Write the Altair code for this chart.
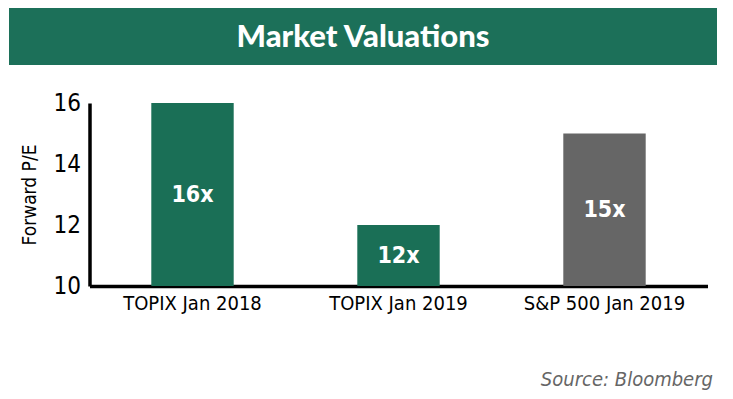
import altair as alt
import pandas as pd

categories = ["TOPIX Jan 2018", "TOPIX Jan 2019", "S&P 500 Jan 2019"]
values = [16, 12, 15]
bar_labels = ["16x", "12x", "15x"]
bar_colors = ["#1a6f56", "#1a6f56", "#666666"]

title_text = "Market Valuations"
y_title = "Forward P/E"
source_text = "Source: Bloomberg"
y_ticks = [10, 12, 14, 16]

df = pd.DataFrame({"cat": categories, "val": values, "lab": bar_labels, "col": bar_colors})

FONT = "'DejaVu Sans Condensed', 'Roboto Condensed', Roboto, sans-serif"
W, H = 618, 183
PL, PT = 81.5, 95

x_enc = alt.X("cat:N", sort=categories,
              scale=alt.Scale(paddingInner=0.6, paddingOuter=0.3),
              axis=alt.Axis(title=None, labelAngle=0, labelFont=FONT, labelFontSize=20,
                            labelColor="#000", labelPadding=7, ticks=False,
                            domainColor="#000", domainWidth=3.5))
y_scale = alt.Scale(domain=[10, 16], nice=False, zero=False)

bars = alt.Chart(df).mark_bar().encode(
    x=x_enc,
    y=alt.Y("val:Q", scale=y_scale,
            axis=alt.Axis(values=y_ticks, grid=False, ticks=False, title=y_title,
                          labelFont=FONT, labelFontSize=24, labelColor="#000", labelPadding=9,
                          titleFont=FONT, titleFontSize=19, titleFontWeight="normal",
                          titleColor="#000", titlePadding=14,
                          domainColor="#000", domainWidth=3.5)),
    y2=alt.datum(10),
    color=alt.Color("col:N", scale=None),
)

texts = alt.Chart(df).transform_calculate(mid="(datum.val + 10) / 2").mark_text(
    font=FONT, fontSize=23, fontWeight="bold", color="white", baseline="middle"
).encode(
    x=alt.X("cat:N", sort=categories),
    y=alt.Y("mid:Q", scale=y_scale),
    text="lab:N",
)

one = pd.DataFrame({"t": [title_text], "s": [source_text]})

banner = alt.Chart(one).mark_rect(color="#1c7059").encode(
    x=alt.value(9 - 89.5), x2=alt.value(717 - 89.5),
    y=alt.value(8 - 103), y2=alt.value(65 - 103),
)
title = alt.Chart(one).mark_text(
    font="Lato", fontSize=31, fontWeight=900, color="white", baseline="middle", align="center"
).encode(x=alt.value(363 - 89.5), y=alt.value(38 - 103), text="t:N")

source = alt.Chart(one).mark_text(
    font=FONT, fontSize=20, fontStyle="italic", color="#666666", baseline="alphabetic", align="right"
).encode(x=alt.value(713 - 89.5), y=alt.value(386 - 103), text="s:N")

chart = alt.layer(banner, title, bars, texts, source).properties(
    width=W, height=H,
    autosize=alt.AutoSizeParams(type="none"),
    padding={"left": PL, "top": PT, "right": 733 - 16 - PL - W, "bottom": 399 - 16 - PT - H},
    background="white",
).configure_view(stroke=None)

chart.save("out.html", embed_options={"renderer": "svg", "actions": False})
